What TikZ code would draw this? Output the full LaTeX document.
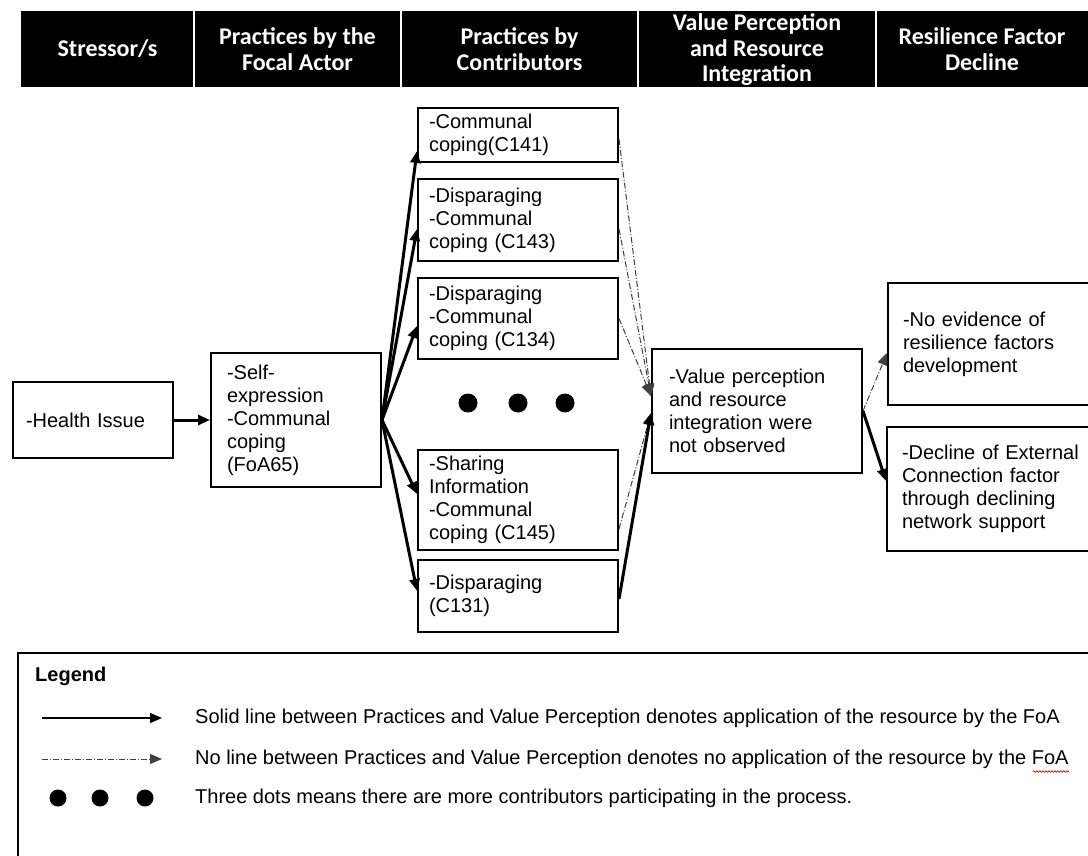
\documentclass[tikz,border=0pt]{standalone}
\usepackage{fontspec}
\setmainfont{Liberation Sans}
\newfontfamily\hdrfont{Carlito}
\usetikzlibrary{arrows.meta,decorations.pathmorphing}
\hyphenpenalty=10000

\tikzset{
  hdr/.style={text=white, font=\hdrfont\bfseries\fontsize{24}{25.5}\selectfont, align=center, inner sep=0pt},
  box/.style={draw, line width=2pt, anchor=north west, align=left, inner ysep=0pt,
              font=\fontsize{20}{23}\selectfont},
  txt/.style={anchor=west, inner sep=0pt, font=\fontsize{20}{23}\selectfont},
  tip/.style={-{Triangle[length=12pt,width=10pt]}},
  solidarrow/.style={tip, line width=3pt},
  dasharrow/.style={tip, line width=1pt, black!75,
                    dash pattern=on 6pt off 2pt on 1pt off 2pt},
  dot/.style={circle, fill=black, inner sep=0pt, minimum size=19pt},
}

\begin{document}
\begin{tikzpicture}[x=1pt, y=-1pt]
\useasboundingbox (0,0) rectangle (1088,856);
\clip (0,0) rectangle (1088,856);

% header bar with column titles
\fill[black] (21,11) rectangle (1100,87);
\foreach \x in {194,401,638,876}
  \draw[white, line width=1.5pt] (\x,11) -- (\x,87);
\node[hdr] (h1) at (107.5,49) {Stressor/s};
\node[hdr] (h2) at (297.5,49) {Practices by the\\Focal Actor};
\node[hdr] (h3) at (519.5,49) {Practices by\\Contributors};
\node[hdr] (h4) at (757,50) {Value Perception\\and Resource\\Integration};
\node[hdr] (h5) at (982,49) {Resilience Factor\\Decline};

% stressor and focal actor
\node[box, minimum width=160pt, minimum height=76pt, text width=134pt, inner xsep=13pt]
  (hi) at (12,381) {-Health Issue};
\node[box, minimum width=170pt, minimum height=134pt, text width=138pt, inner xsep=16pt]
  (foa) at (210,352) {-Self-\\expression\\-Communal\\coping\\(FoA65)};

% contributors
\tikzset{cbox/.style={box, minimum width=200pt, text width=178pt, inner xsep=11pt}}
\node[cbox, minimum height=54pt] (c1) at (417,107) {-Communal\\coping(C141)};
\node[cbox, minimum height=82pt] (c2) at (417,178) {-Disparaging\\-Communal\\coping (C143)};
\node[cbox, minimum height=81pt] (c3) at (417,277) {-Disparaging\\-Communal\\coping (C134)};
\node[cbox, minimum height=100pt] (c5) at (417,449) {-Sharing\\Information\\-Communal\\coping (C145)};
\node[cbox, minimum height=72pt] (c6) at (417,559) {-Disparaging\\(C131)};

\node[dot] (d1) at (468,403) {};
\node[dot] (d2) at (518,403) {};
\node[dot] (d3) at (565,403) {};

% value perception
\node[box, minimum width=210pt, minimum height=124pt, text width=176pt, inner xsep=17pt]
  (vp) at (651,348) {-Value perception\\and resource\\integration were\\not observed};

% resilience factors (running off the right edge)
\node[box, minimum width=215pt, minimum height=122pt, text width=185pt, inner xsep=15pt]
  (r1) at (887,282) {-No evidence of\\resilience factors\\development};
\node[box, minimum width=215pt, minimum height=124pt, text width=185pt, inner xsep=15pt]
  (r2) at (886,426) {-Decline of External\\Connection factor\\through declining\\network support};

% connectors
\draw[solidarrow] (hi.east) -- (foa.west);
\draw[solidarrow] (foa.east) -- ([yshift=-16pt]c1.west);
\draw[solidarrow] (foa.east) -- ([yshift=-9pt]c2.west);
\draw[solidarrow] (foa.east) -- ([yshift=-7.5pt]c3.west);
\draw[solidarrow] (foa.east) -- ([yshift=6pt]c5.west);
\draw[solidarrow] (foa.east) -- ([yshift=5pt]c6.west);

\draw[dasharrow] ([yshift=-4pt]c1.east) -- ([yshift=15pt]vp.west);
\draw[dasharrow] ([yshift=-9pt]c2.east) -- ([yshift=15pt]vp.west);
\draw[dasharrow] (c3.east) -- ([yshift=15pt]vp.west);
\draw[dasharrow] ([yshift=-29pt]c5.east) -- ([yshift=-2pt]vp.west);
\draw[solidarrow] ([yshift=-3pt]c6.east) -- ([yshift=-2pt]vp.west);

\draw[dasharrow] (vp.east) -- ([yshift=-9pt]r1.west);
\draw[solidarrow] (vp.east) -- ([yshift=8pt]r2.west);

% legend
\draw[line width=2pt] (18,653) rectangle (1100,880);
\node[txt, font=\bfseries\fontsize{20}{23}\selectfont] (lt) at (35,676) {Legend};

\coordinate (a1) at (42,718);  \coordinate (b1) at (162,718);
\draw[tip, line width=1.5pt] (a1) -- (b1);
\node[txt] (l1) at (195,718) {Solid line between Practices and Value Perception denotes application of the resource by the FoA};

\coordinate (a2) at (42,759);  \coordinate (b2) at (162,759);
\draw[tip, line width=1pt, black!75, dash pattern=on 6pt off 2pt on 1pt off 2pt] (a2) -- (b2);
\node[txt] (l2) at (195,759) {No line between Practices and Value Perception denotes no application of the resource by the FoA};
\draw[red!80!black, line width=0.6pt, decorate,
      decoration={snake, amplitude=0.8pt, segment length=3pt}]
  ([xshift=-36pt, yshift=-3pt]l2.south east) -- ([yshift=-3pt]l2.south east);

\node[dot, minimum size=17pt] (e1) at (58,798) {};
\node[dot, minimum size=17pt] (e2) at (100,798) {};
\node[dot, minimum size=17pt] (e3) at (145,798) {};
\node[txt] (l3) at (195,798) {Three dots means there are more contributors participating in the process.};
\end{tikzpicture}
\end{document}
